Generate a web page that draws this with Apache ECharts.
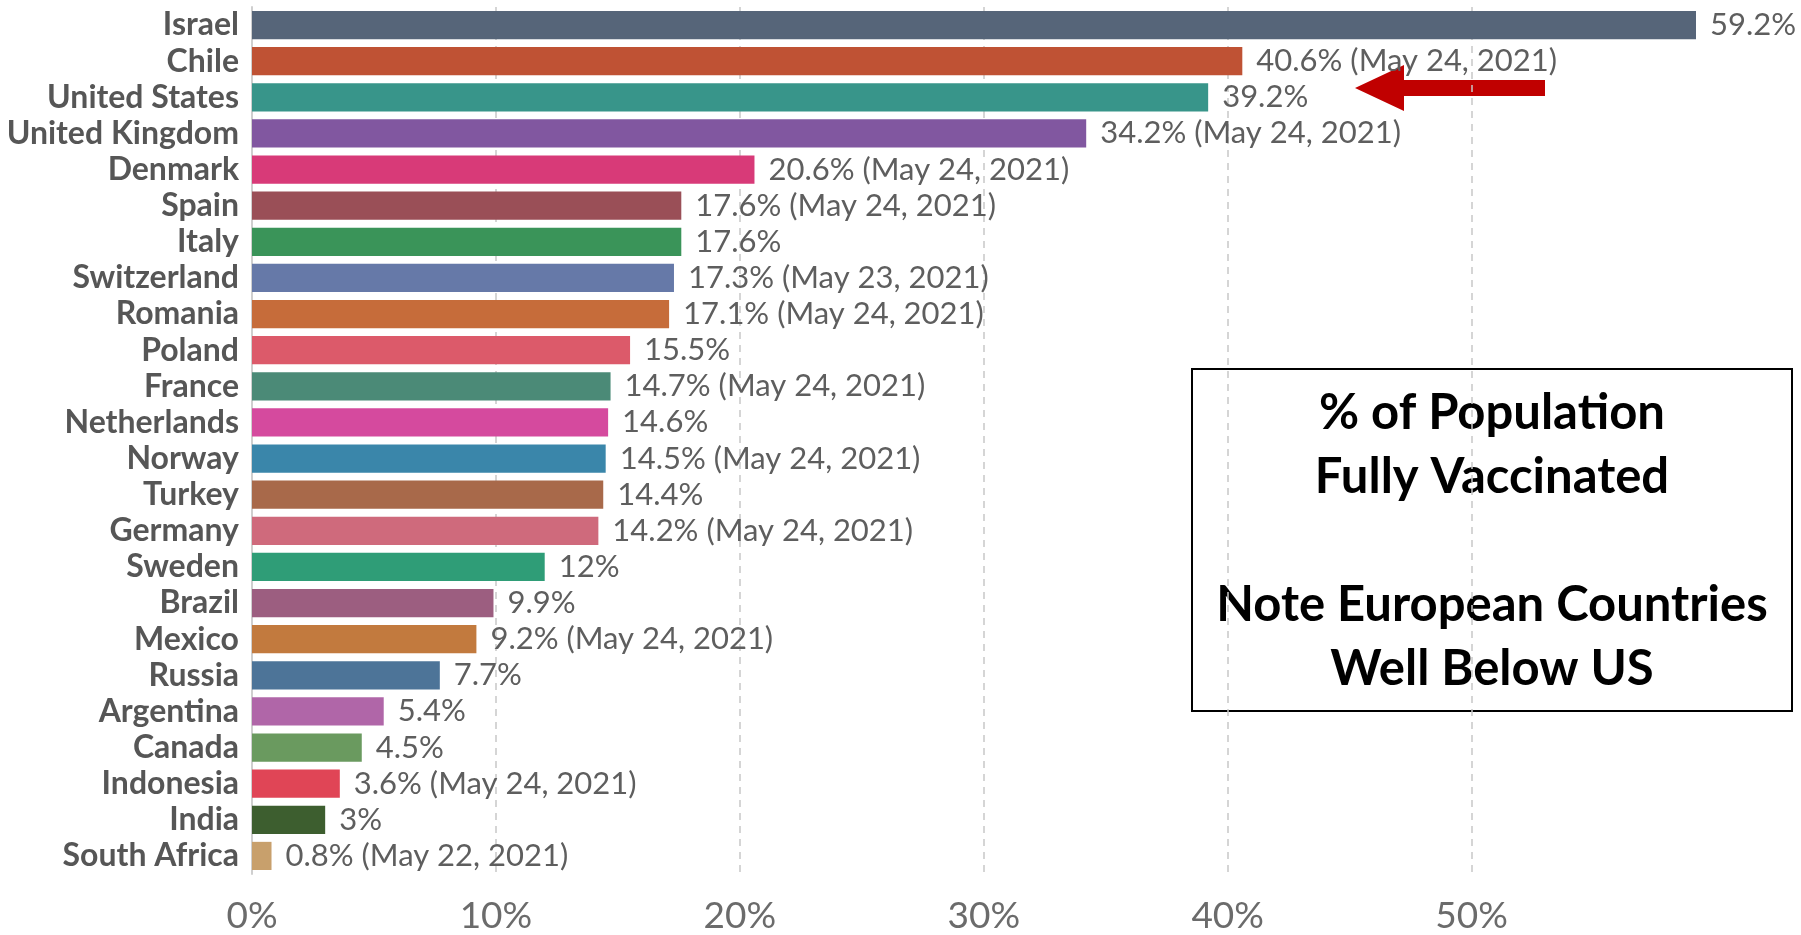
<!DOCTYPE html>
<html>
<head>
<meta charset="utf-8">
<title>% of Population Fully Vaccinated</title>
<script src="https://cdn.jsdelivr.net/npm/echarts@6/dist/echarts.min.js"></script>
<style>
  html, body { margin: 0; padding: 0; background: #fff; }
  #chart { width: 1801px; height: 935px; }
</style>
</head>
<body>
<div id="chart"></div>
<script>
// countries, top to bottom
const countries = ['Israel', 'Chile', 'United States', 'United Kingdom', 'Denmark', 'Spain', 'Italy',
  'Switzerland', 'Romania', 'Poland', 'France', 'Netherlands', 'Norway', 'Turkey', 'Germany',
  'Sweden', 'Brazil', 'Mexico', 'Russia', 'Argentina', 'Canada', 'Indonesia', 'India', 'South Africa']
const shares = [59.2, 40.6, 39.2, 34.2, 20.6, 17.6, 17.6, 17.3, 17.1, 15.5, 14.7, 14.6, 14.5, 14.4, 14.2,
  12, 9.9, 9.2, 7.7, 5.4, 4.5, 3.6, 3, 0.8]
// date note shown after the value (empty = latest)
const dateNotes = ['', 'May 24, 2021', '', 'May 24, 2021', 'May 24, 2021', 'May 24, 2021', '',
  'May 23, 2021', 'May 24, 2021', '', 'May 24, 2021', '', 'May 24, 2021', '', 'May 24, 2021',
  '', '', 'May 24, 2021', '', '', '', 'May 24, 2021', '', 'May 22, 2021']
const barColors = ['#566579', '#bf5234', '#38958a', '#8157a0', '#d83a78', '#9a4f57', '#3a9459',
  '#6679a8', '#c66c3a', '#dc5a6a', '#4b8a77', '#d54a9e', '#3a86aa', '#a8694a', '#cf6a7c',
  '#2f9d77', '#9c5e80', '#c27a3e', '#4d7498', '#b066a8', '#6a9a5f', '#e04556', '#3d5e2f', '#c8a06c']
const xTicks = [0, 10, 20, 30, 40, 50]

let chart = echarts.init(document.getElementById('chart'))

let option = {
  animation: false,
  textStyle: { fontFamily: 'Lato' },
  grid: { left: 252, right: 105, top: 7, bottom: 61 },
  xAxis: {
    type: 'value',
    min: xTicks[0],
    max: Math.max(...shares),
    interval: xTicks[1] - xTicks[0],
    axisLine: { show: false },
    axisTick: { show: false },
    axisLabel: {
      formatter: '{value}%',
      fontSize: 37,
      color: '#6b6b6b',
      margin: 24,
      showMaxLabel: false
    },
    splitLine: {
      showMinLine: false,
      showMaxLine: false,
      lineStyle: { type: [7, 6], color: '#c8c8c8', width: 1.5 }
    }
  },
  yAxis: {
    type: 'category',
    inverse: true,
    data: countries,
    axisLine: { show: true, lineStyle: { color: '#cfcfcf', width: 2 } },
    axisTick: { show: false },
    axisLabel: {
      interval: 0,
      hideOverlap: false,
      fontSize: 32,
      fontWeight: 'bold',
      color: '#565656',
      margin: 13
    }
  },
  series: [{
    type: 'bar',
    barCategoryGap: '22%',
    data: shares.map((v, i) => ({ value: v, itemStyle: { color: barColors[i] } })),
    label: {
      show: true,
      position: 'right',
      distance: 14,
      fontSize: 31,
      color: '#5e5e5e',
      formatter: p => p.value + '%' + (dateNotes[p.dataIndex] ? ' (' + dateNotes[p.dataIndex] + ')' : '')
    }
  }],
  graphic: [
    // arrow pointing at the US bar
    {
      type: 'polygon',
      shape: {
        points: [[1355, 88], [1404, 65], [1404, 80], [1545, 80], [1545, 96], [1404, 96], [1404, 111]]
      },
      style: { fill: '#c00000' }
    },
    // note box
    {
      type: 'rect',
      shape: { x: 1192, y: 369, width: 600, height: 342 },
      style: { fill: '#fff', stroke: '#000', lineWidth: 2 }
    },
    {
      type: 'text',
      x: 1492,
      y: 381,
      style: {
        text: '% of Population\nFully Vaccinated\n\nNote European Countries\nWell Below US',
        fontFamily: 'Lato',
        fontWeight: 'bold',
        fontSize: 49,
        lineHeight: 64,
        fill: '#000',
        align: 'center',
        verticalAlign: 'top'
      }
    }
  ]
}

chart.setOption(option)
</script>
</body>
</html>
